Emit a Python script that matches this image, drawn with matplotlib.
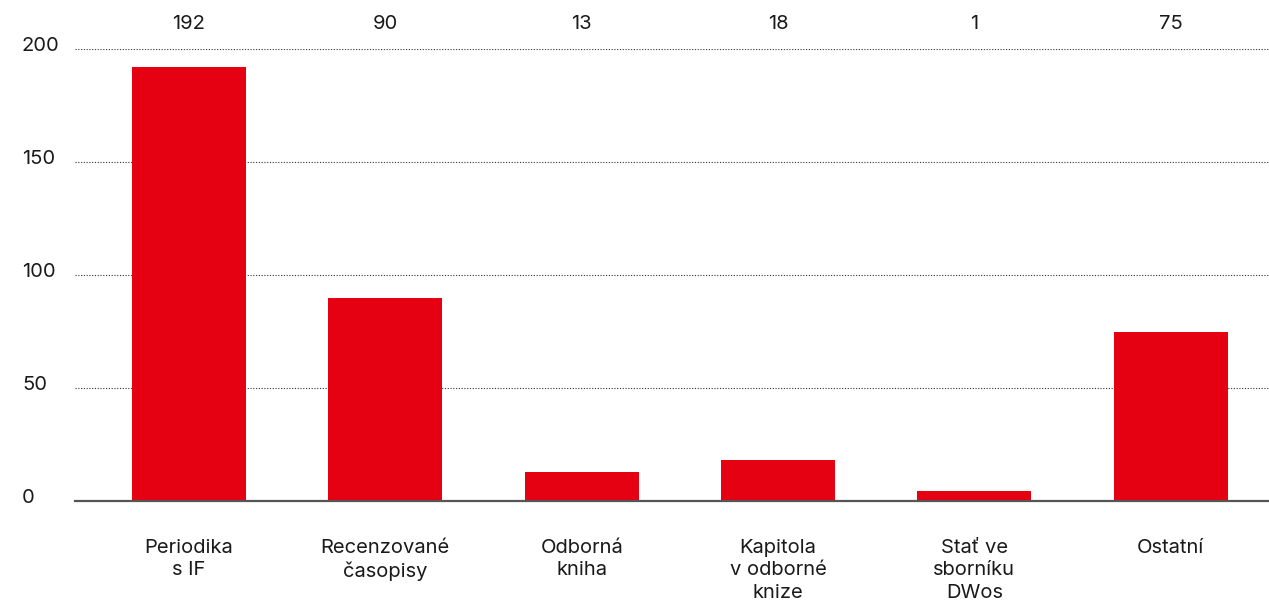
import matplotlib.pyplot as plt
import matplotlib.transforms as mtransforms

plt.rcParams['font.family'] = ['Inter', 'DejaVu Sans']

# data
categories = ["Periodika\ns IF", "Recenzované\nčasopisy", "Odborná\nkniha",
              "Kapitola\nv odborné\nknize", "Stať ve\nsborníku\nDWos", "Ostatní"]
values = [192, 90, 13, 18, 1, 75]
y_ticks = [0, 50, 100, 150, 200]

bar_color = "#E50012"
text_color = "#1a1a1a"
min_visible = 4.5  # tiny values still get a visible sliver

fig = plt.figure(figsize=(12.69, 6.07), dpi=100)
ax = fig.add_axes([0.0591, 0.1746, 0.9409, 0.7447])

x = range(len(categories))
heights = [max(v, min_visible) for v in values]
ax.bar(x, heights, width=0.58, color=bar_color, zorder=2)

ax.set_xlim(-0.58, 5.5)
ax.set_ylim(0, 200)

for s in ["top", "right", "left"]:
    ax.spines[s].set_visible(False)
ax.spines["bottom"].set_color("#555555")
ax.spines["bottom"].set_linewidth(1.6)
ax.spines["bottom"].set_zorder(3)

# dotted gridlines
for t in y_ticks[1:]:
    ax.axhline(t, color="#333333", linestyle=(0, (1, 1.5)), linewidth=0.8, zorder=1)

ax.set_xticks([])
ax.set_yticks([])

fs = 14.5

# y tick labels, left aligned
trans_y = mtransforms.blended_transform_factory(ax.transAxes, ax.transData)
for t in y_ticks:
    ax.text(-0.0444, t + 1.5, str(t), transform=trans_y, ha="left", va="center",
            fontsize=fs, color=text_color)

# value labels above the plot
trans_x = mtransforms.blended_transform_factory(ax.transData, ax.transAxes)
for i, v in enumerate(values):
    ax.text(i, 1.055, str(v), transform=trans_x, ha="center", va="center",
            fontsize=fs, color=text_color)

# category labels
for i, c in enumerate(categories):
    ax.text(i, -0.083, c, transform=trans_x, ha="center", va="top",
            fontsize=fs, color=text_color, linespacing=1.35)

fig.savefig("out.png", dpi=100)
